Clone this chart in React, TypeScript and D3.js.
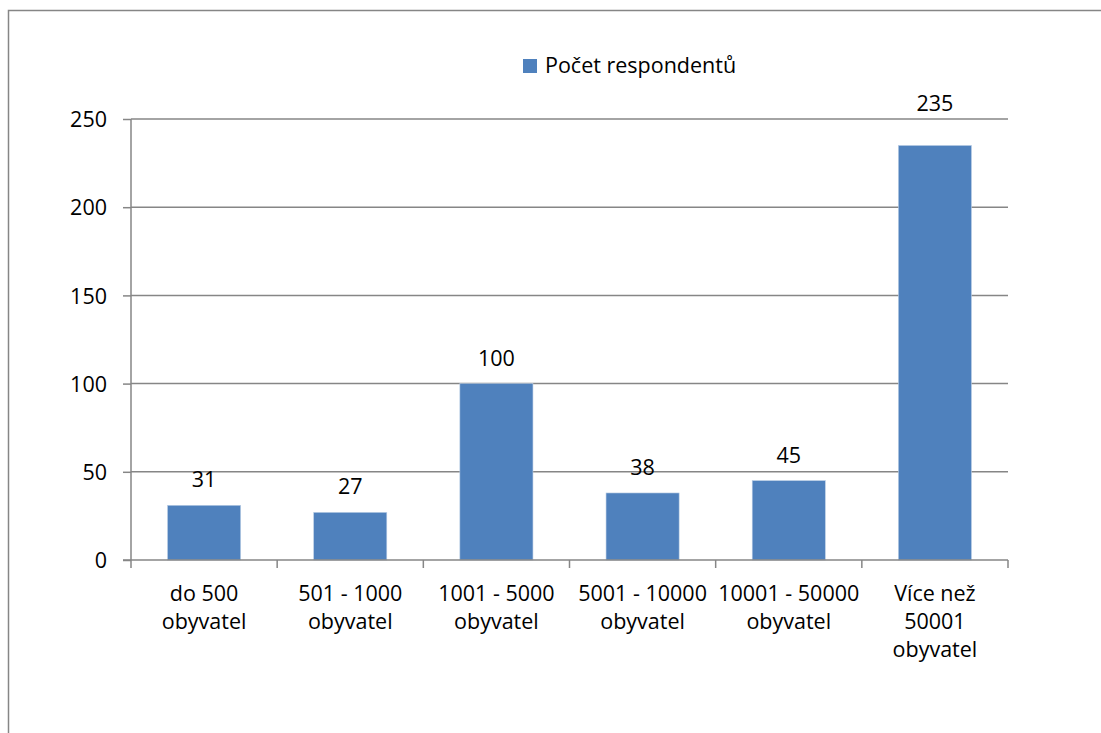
import { useEffect, useRef } from 'react'
import * as d3 from 'd3'

const categories: string[][] = [
  ['do 500', 'obyvatel'],
  ['501 - 1000', 'obyvatel'],
  ['1001 - 5000', 'obyvatel'],
  ['5001 - 10000', 'obyvatel'],
  ['10001 - 50000', 'obyvatel'],
  ['Více než', '50001', 'obyvatel']
]
const values = [31, 27, 100, 38, 45, 235]
const yTicks = [0, 50, 100, 150, 200, 250]
const seriesName = 'Počet respondentů'

const W = 1101, H = 733
const FONT = '"Open Sans", "Noto Sans", sans-serif'
const FS = 21.5
const GRID = '#868686'
const BAR = '#4f81bd'

export default function App() {
  const svgRef = useRef<SVGSVGElement>(null)

  useEffect(() => {
    if (!svgRef.current) return
    const svg = d3.select(svgRef.current)
    svg.selectAll('*').remove()

    const m = { left: 131, right: 1008, top: 119, bottom: 560 }

    // outer chart frame (runs off the right and bottom edges)
    svg.append('rect')
      .attr('x', 8.5).attr('y', 10.5).attr('width', 1200).attr('height', 800)
      .attr('fill', '#fff').attr('stroke', GRID).attr('stroke-width', 1.5)

    const x = d3.scaleBand<number>()
      .domain(d3.range(values.length))
      .range([m.left, m.right])
      .paddingInner(0.5).paddingOuter(0.25)
    const xOuter = d3.scaleBand<number>()
      .domain(d3.range(values.length))
      .range([m.left, m.right])
    const y = d3.scaleLinear().domain([0, 250]).range([m.bottom, m.top])

    // gridlines
    svg.append('g').selectAll('line').data(yTicks.filter(t => t > 0)).join('line')
      .attr('x1', m.left).attr('x2', m.right)
      .attr('y1', d => y(d)).attr('y2', d => y(d))
      .attr('stroke', GRID).attr('stroke-width', 1.5)

    // bars
    svg.append('g').selectAll('rect').data(values).join('rect')
      .attr('x', (_, i) => x(i)!)
      .attr('y', d => y(d))
      .attr('width', x.bandwidth())
      .attr('height', d => y(0) - y(d))
      .attr('fill', BAR)
      .attr('stroke', '#b9cde5').attr('stroke-width', 0.6)

    // value labels; pushed above the plot area when they would sit on the top gridline
    const labelY = (d: number) => {
      const ly = y(d) - 18
      return ly < m.top + 16 ? m.top - 8 : ly
    }
    svg.append('g').selectAll('text').data(values).join('text')
      .attr('x', (_, i) => x(i)! + x.bandwidth() / 2)
      .attr('y', d => labelY(d))
      .attr('text-anchor', 'middle')
      .attr('font-family', FONT).attr('font-size', FS).attr('fill', '#000')
      .text(d => d)

    // y axis
    const yAxis = svg.append('g').attr('transform', `translate(${m.left},0)`)
      .call(d3.axisLeft(y).tickValues(yTicks).tickSize(8).tickPadding(16))
    yAxis.select('.domain').attr('stroke', GRID).attr('stroke-width', 1.5)
      .attr('d', `M0,${m.bottom}V${m.top}`)
    yAxis.selectAll('.tick line').attr('stroke', GRID).attr('stroke-width', 1.5)
    yAxis.selectAll('.tick text')
      .attr('font-family', FONT).attr('font-size', FS).attr('fill', '#000').attr('dy', '0.36em')

    // x axis
    const xAxis = svg.append('g').attr('transform', `translate(0,${m.bottom})`)
    xAxis.append('line')
      .attr('x1', m.left - 8).attr('x2', m.right).attr('y1', 0).attr('y2', 0)
      .attr('stroke', GRID).attr('stroke-width', 1.5)
    const edges = d3.range(values.length + 1).map(i => (i < values.length ? xOuter(i)! : m.right))
    xAxis.selectAll('line.tk').data(edges).join('line').attr('class', 'tk')
      .attr('x1', d => d).attr('x2', d => d).attr('y1', 0).attr('y2', 8)
      .attr('stroke', GRID).attr('stroke-width', 1.5)
    const lbl = xAxis.selectAll('text.cat').data(categories).join('text').attr('class', 'cat')
      .attr('x', (_, i) => x(i)! + x.bandwidth() / 2)
      .attr('y', 41)
      .attr('text-anchor', 'middle')
      .attr('font-family', FONT).attr('font-size', FS).attr('fill', '#000')
    lbl.selectAll('tspan').data(d => d).join('tspan')
      .attr('x', function () { return (this.parentNode as SVGTextElement).getAttribute('x') })
      .attr('dy', (_, j) => (j === 0 ? 0 : 28))
      .text(d => d)

    // legend
    const lg = svg.append('g').attr('transform', 'translate(523,59)')
    lg.append('rect').attr('width', 14).attr('height', 14).attr('fill', BAR)
    lg.append('text').attr('x', 22).attr('y', 14)
      .attr('font-family', FONT).attr('font-size', FS).attr('fill', '#000')
      .text(seriesName)
  }, [])

  return (
    <svg ref={svgRef} width={W} height={H}
      style={{ position: 'absolute', left: 0, top: 0, display: 'block' }} />
  )
}
